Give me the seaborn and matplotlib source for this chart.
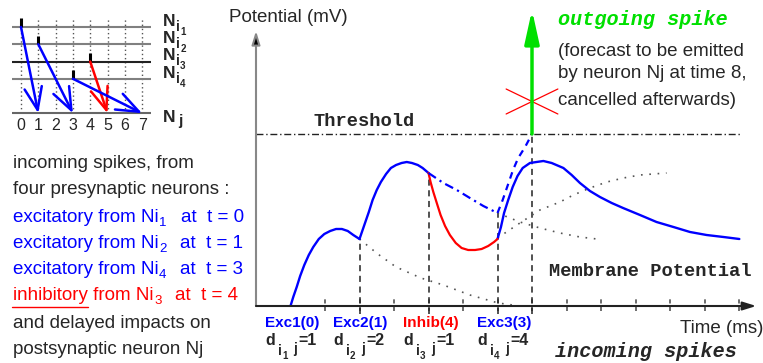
import numpy as np
import matplotlib.pyplot as plt
import seaborn as sns
from matplotlib.lines import Line2D

################ DATA ################

# presynaptic spikes (left raster panel)
neuron_ids = [1, 2, 3, 4]
row_pos = [4, 3, 2, 1]
spike_t = [0, 1, 4, 3]
delays = [1, 2, 1, 4]
kinds = ['exc', 'exc', 'inh', 'exc']
nj_row = -1
raster_ticks = [0, 1, 2, 3, 4, 5, 6, 7]
impact_names = ['Exc1(0)', 'Exc2(1)', 'Inhib(4)', 'Exc3(3)']

# membrane potential pieces (time in ms, potential)
exc1_t = [1.0, 1.08, 1.18, 1.28, 1.40, 1.53, 1.66, 1.82, 1.98, 2.15, 2.32, 2.49, 2.66, 2.82, 3.0]
exc1_v = [0.0, 0.9, 1.9, 3.0, 4.1, 5.1, 5.9, 6.7, 7.2, 7.5, 7.7, 7.7, 7.5, 7.1, 6.7]

exc2_t = [3.0, 3.07, 3.17, 3.27, 3.38, 3.50, 3.62, 3.77, 3.91, 4.06, 4.22, 4.37, 4.52, 4.69, 4.83, 5.0]
exc2_v = [6.7, 7.4, 8.4, 9.4, 10.6, 11.6, 12.4, 13.2, 13.8, 14.1, 14.3, 14.4, 14.3, 14.1, 13.8, 13.3]

inhib_t = [5.0, 5.06, 5.14, 5.24, 5.35, 5.48, 5.62, 5.79, 5.96, 6.15, 6.35, 6.54, 6.73, 6.90, 7.0]
inhib_v = [13.3, 12.4, 11.4, 10.3, 9.1, 8.0, 7.1, 6.3, 5.8, 5.6, 5.6, 5.7, 6.0, 6.4, 6.7]

cancel_t = [5.0, 5.43, 5.82, 6.2, 6.59, 7.0]
cancel_v = [13.3, 12.3, 11.6, 10.8, 10.0, 9.3]

forecast_t = [7.0, 7.15, 7.3, 7.45, 7.6, 7.8, 8.0]
forecast_v = [9.3, 10.6, 12.1, 13.6, 14.8, 15.9, 17.2]

exc3_t = [7.0, 7.1, 7.19, 7.31, 7.44, 7.58, 7.73, 7.94, 8.13, 8.33, 8.57, 8.91, 9.15,
          9.39, 9.68, 9.97, 10.31, 10.64, 11.13, 11.61, 12.1, 12.58, 13.06, 13.55, 14.01]
exc3_v = [6.7, 7.9, 9.3, 10.6, 11.9, 13.0, 13.8, 14.3, 14.4, 14.5, 14.3, 13.8, 13.1,
          12.3, 11.5, 10.9, 10.3, 9.8, 9.1, 8.4, 7.9, 7.4, 7.1, 6.9, 6.7]

# dotted "what would have happened" traces
decay1_t = [3.0, 3.53, 4.06, 4.78, 5.43, 6.2, 7.02, 7.65]
decay1_v = [6.7, 5.2, 3.9, 2.8, 2.1, 1.1, 0.3, 0.0]
decay2_t = [7.0, 7.65, 8.23, 8.81, 9.39, 9.88]
decay2_v = [9.3, 8.4, 7.8, 7.3, 6.9, 6.7]
rise3_t = [7.0, 7.65, 8.23, 8.81, 9.2, 9.68, 10.17, 10.65, 11.13, 11.51, 11.9]
rise3_v = [6.8, 8.3, 9.6, 10.4, 11.1, 11.8, 12.4, 12.8, 13.1, 13.2, 13.3]

# vertical markers
marker_t = [3, 5, 7, 8]
marker_top = [6.7, 13.3, 9.3, 17.2]
time_ticks = [2, 3, 4, 5, 6, 7, 8, 9, 10, 11, 12, 13, 14]

threshold = 17.2
out_spike_t = 8
out_spike_top = 29.6
cancel_mark_v = 20.45

################ STYLE ################

sns.set_theme(style='white')
plt.rcParams['font.family'] = ['Liberation Sans', 'DejaVu Sans']

BLUE = '#0000ff'
RED = '#ff0000'
GREEN = '#00e000'
MONO = ['Liberation Mono', 'DejaVu Sans Mono']

W, H = 763, 363
fig = plt.figure(figsize=(W / 100, H / 100), dpi=100)
renderer = fig.canvas.get_renderer()


def fx(x):
    return x / W


def fy(y):
    return 1 - y / H


def chain(x, y, pieces, **kw):
    # pieces: (text, fontsize, baseline shift in px, gap after in px)
    for s, size, dy, gap in pieces:
        t = fig.text(fx(x), fy(y + dy), s, fontsize=size, va='baseline', **kw)
        x = t.get_window_extent(renderer).x1 + gap
    return x


################ LEFT RASTER PANEL ################

ax0 = fig.add_axes([fx(12.35), fy(131), 138.4 / W, 118 / H])
ax0.set_xlim(-0.5, 7.5)
ax0.set_ylim(4 - 104 / 17.25, 4 + 14 / 17.25)
ax0.set_axis_off()

ax0.vlines(raster_ticks, nj_row, 4.5, colors='#555555', lw=1.0, linestyles=(0, (1, 2)))
for r in row_pos:
    ax0.axhline(r, color='#222222' if r == 2 else '#808080', lw=1.5)
ax0.axhline(nj_row, color='#666666', lw=1.5)

for r, s, d, k in zip(row_pos, spike_t, delays, kinds):
    c = RED if k == 'inh' else BLUE
    ax0.annotate('', xy=(s + d, nj_row), xytext=(s, r),
                 arrowprops=dict(arrowstyle='->,head_length=0.9,head_width=0.35',
                                 color=c, lw=1.8, shrinkA=0, shrinkB=0, mutation_scale=18))
    ax0.plot([s, s], [r, r + 0.5], color='black', lw=2.2, solid_capstyle='butt')

for t in raster_ticks:
    ax0.text(t, 4 - 99 / 17.25, str(t), ha='center', va='center', fontsize=11.5)

for n, y in zip(neuron_ids, [26, 43, 60, 78]):
    chain(163, y, [('N', 12.5, 0, 0.5), ('i', 10, 4.7, 0.3), (str(n), 7, 9, 0)], fontweight='bold')
chain(163, 122, [('N', 12.5, 0, 3), ('j', 11, 2.5, 0)], fontweight='bold')

# left explanation text
fig.text(fx(13), fy(168), 'incoming spikes, from', fontsize=13.5, va='baseline')
fig.text(fx(13), fy(194), 'four presynaptic neurons :', fontsize=13.5, va='baseline')
order = np.argsort(spike_t)
for i, idx in enumerate(order):
    c = RED if kinds[idx] == 'inh' else BLUE
    word = 'inhibitory' if kinds[idx] == 'inh' else 'excitatory'
    chain(13, 222 + 26 * i, [(word + ' from Ni', 13.5, 0, 0.5),
                             (str(neuron_ids[idx]), 9.5, 4, 14),
                             ('at  t = %d' % spike_t[idx], 13.5, 0, 0)], color=c)
fig.add_artist(Line2D([fx(12), fx(88)], [fy(307), fy(307)], color=RED, lw=1.0))
fig.text(fx(13), fy(328), 'and delayed impacts on', fontsize=13.5, va='baseline')
fig.text(fx(13), fy(354), 'postsynaptic neuron Nj', fontsize=13.5, va='baseline')

################ MEMBRANE POTENTIAL PANEL ################

ax = fig.add_axes([fx(256), fy(306), 14.5 * 34.5 / W, 275 / H])
ax.set_xlim(0, 14.5)
ax.set_ylim(0, 27.5)

# axes arrows
ax.annotate('', xy=(0, 27.5), xytext=(0, 0), annotation_clip=False,
            arrowprops=dict(arrowstyle='-|>,head_length=0.8,head_width=0.25', color='#888888',
                            lw=1.5, shrinkA=0, shrinkB=0, mutation_scale=10, fc='black', ec='#888888'))
ax.annotate('', xy=(14.5, 0), xytext=(0, 0), annotation_clip=False,
            arrowprops=dict(arrowstyle='-|>,head_length=0.8,head_width=0.25', color='#222222',
                            lw=1.5, shrinkA=0, shrinkB=0, mutation_scale=10))
ax.vlines(time_ticks, -0.5, 0.8, colors='#555555', lw=1.2, linestyles=(0, (2.5, 2)), clip_on=False)

# threshold
ax.hlines(threshold, 0, 14.03, colors='#222222', lw=1.0, linestyles=(0, (5, 2, 1, 2)))

# vertical dashed markers
ax.vlines(marker_t, -0.8, marker_top, colors='#222222', lw=1.1, linestyles=(0, (4, 3)), clip_on=False)

# dotted traces
for tt, vv in [(decay1_t, decay1_v), (decay2_t, decay2_v), (rise3_t, rise3_v)]:
    sns.lineplot(x=tt, y=vv, ax=ax, color='#555555', lw=1.2, linestyle=(0, (1, 4)),
                 sort=False, estimator=None)

# membrane potential
for tt, vv in [(exc1_t, exc1_v), (exc2_t, exc2_v), (exc3_t, exc3_v)]:
    sns.lineplot(x=tt, y=vv, ax=ax, color=BLUE, lw=1.7, sort=False, estimator=None)
sns.lineplot(x=inhib_t, y=inhib_v, ax=ax, color=RED, lw=1.6, sort=False, estimator=None)
sns.lineplot(x=cancel_t, y=cancel_v, ax=ax, color=BLUE, lw=1.6, linestyle=(0, (4, 2, 1, 2)),
             sort=False, estimator=None)
sns.lineplot(x=forecast_t, y=forecast_v, ax=ax, color=BLUE, lw=1.6, linestyle=(0, (3, 2.5)),
             sort=False, estimator=None)
ax.set_axis_off()

# outgoing spike
ax.annotate('', xy=(out_spike_t, out_spike_top), xytext=(out_spike_t, threshold), annotation_clip=False,
            arrowprops=dict(arrowstyle='-|>,head_length=1.0,head_width=0.22', color=GREEN,
                            lw=2.5, shrinkA=0, shrinkB=0, mutation_scale=20))
ax.plot([out_spike_t - 0.75, out_spike_t + 0.75], [cancel_mark_v + 1.25, cancel_mark_v - 1.25],
        color=RED, lw=0.9)
ax.plot([out_spike_t - 0.75, out_spike_t + 0.75], [cancel_mark_v - 1.25, cancel_mark_v + 1.25],
        color=RED, lw=0.9)

# impact labels below the axis
label_left = [265, 333, 403, 477]
arrival = [s + d for s, d in zip(spike_t, delays)]
for k, idx in enumerate(np.argsort(arrival)):
    c = RED if kinds[idx] == 'inh' else BLUE
    fig.text(fx(label_left[k]), fy(327), impact_names[k], va='baseline',
             fontsize=11, fontweight='bold', color=c)
    chain(label_left[k], 345, [('d', 11.5, 0, 3), ('i', 10, 10, 0.5),
                               (str(neuron_ids[idx]), 7, 14, 6), ('j', 10, 8, 1),
                               ('=%d' % delays[idx], 11.5, 0, 0)], fontweight='bold')

# annotations
fig.text(fx(229), fy(22), 'Potential (mV)', fontsize=13.5, va='baseline')
fig.text(fx(313), fy(126), 'Threshold', family=MONO, fontweight='bold', fontsize=13.5, va='baseline')
fig.text(fx(558), fy(25), 'outgoing spike', family=MONO, fontweight='bold', fontstyle='italic',
         fontsize=14.5, va='baseline', color=GREEN)
fig.text(fx(558), fy(56), '(forecast to be emitted', fontsize=13.5, va='baseline')
fig.text(fx(558), fy(78), 'by neuron Nj at time 8,', fontsize=13.5, va='baseline')
fig.text(fx(558), fy(105), 'cancelled afterwards)', fontsize=13.5, va='baseline')
fig.text(fx(549), fy(276), 'Membrane Potential', family=MONO, fontweight='bold', fontsize=13.5, va='baseline')
fig.text(fx(680), fy(333), 'Time (ms)', fontsize=13.5, va='baseline')
fig.text(fx(555), fy(357), 'incoming spikes', family=MONO, fontweight='bold', fontstyle='italic',
         fontsize=14.5, va='baseline')

fig.savefig('out.png', dpi=100)
